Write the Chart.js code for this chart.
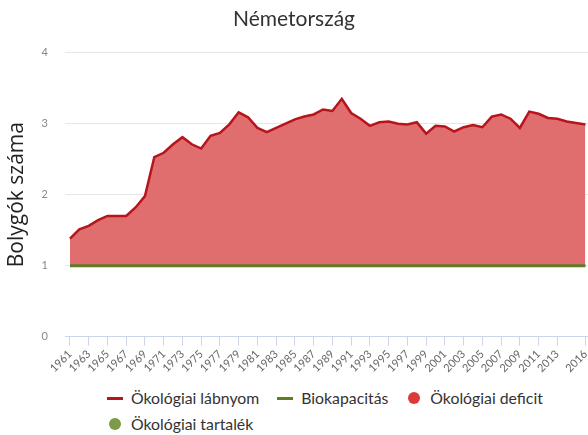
<!DOCTYPE html>
<html>
<head>
<meta charset="utf-8">
<script src="https://cdn.jsdelivr.net/npm/chart.js@4"></script>
<style>
    html, body { margin: 0; padding: 0; background: #fff; }
    body { width: 588px; height: 435px; overflow: hidden; position: relative; font-family: Lato, sans-serif; }
    .chart-box { position: absolute; left: 0; top: 0; width: 588px; height: 380px; }
    #legend { position: absolute; left: 107px; top: 385px; width: 470px; display: flex; flex-wrap: wrap; }
    .legend-item { display: flex; align-items: center; height: 26px; line-height: 1; margin-right: 18px; font-size: 15.8px; color: #333; white-space: nowrap; }
    .legend-symbol { width: 16px; height: 16px; margin-right: 8px; position: relative; }
    .legend-symbol.line::after { content: ''; position: absolute; left: 0; right: 0; top: 7px; height: 3px; background: var(--c); }
    .legend-symbol.dot::after { content: ''; position: absolute; left: 2px; top: 2px; width: 12px; height: 12px; border-radius: 50%; background: var(--c); }
</style>
</head>
<body>
<div class="chart-box"><canvas id="footprintChart"></canvas></div>
<div id="legend"></div>
<script>
// Years on the x axis
const years = [
    1961, 1962, 1963, 1964, 1965, 1966, 1967, 1968, 1969, 1970,
    1971, 1972, 1973, 1974, 1975, 1976, 1977, 1978, 1979, 1980,
    1981, 1982, 1983, 1984, 1985, 1986, 1987, 1988, 1989, 1990,
    1991, 1992, 1993, 1994, 1995, 1996, 1997, 1998, 1999, 2000,
    2001, 2002, 2003, 2004, 2005, 2006, 2007, 2008, 2009, 2010,
    2011, 2012, 2013, 2014, 2015, 2016
];

// Ecological footprint, in number of planets
const footprint = [
    1.38, 1.51, 1.56, 1.64, 1.70, 1.70, 1.70, 1.82, 1.98, 2.53,
    2.59, 2.71, 2.81, 2.71, 2.65, 2.83, 2.87, 2.99, 3.16, 3.09,
    2.94, 2.88, 2.94, 3.00, 3.06, 3.10, 3.13, 3.20, 3.18, 3.35,
    3.15, 3.07, 2.97, 3.02, 3.03, 3.00, 2.99, 3.02, 2.86, 2.97,
    2.96, 2.89, 2.95, 2.98, 2.95, 3.10, 3.13, 3.07, 2.94, 3.17,
    3.14, 3.08, 3.07, 3.03, 3.01, 2.99
];

// Biocapacity, in number of planets
const biocapacity = [
    1, 1, 1, 1, 1, 1, 1, 1, 1, 1,
    1, 1, 1, 1, 1, 1, 1, 1, 1, 1,
    1, 1, 1, 1, 1, 1, 1, 1, 1, 1,
    1, 1, 1, 1, 1, 1, 1, 1, 1, 1,
    1, 1, 1, 1, 1, 1, 1, 1, 1, 1,
    1, 1, 1, 1, 1, 1
];

// Labelled years on the x axis
const xTickYears = [
    1961, 1963, 1965, 1967, 1969, 1971, 1973, 1975, 1977, 1979,
    1981, 1983, 1985, 1987, 1989, 1991, 1993, 1995, 1997, 1999,
    2001, 2003, 2005, 2007, 2009, 2011, 2013, 2016
];

const yTicks = [0, 1, 2, 3, 4];

const legendLabels = ['Ökológiai lábnyom', 'Biokapacitás', 'Ökológiai deficit', 'Ökológiai tartalék'];
const legendKinds = ['line', 'line', 'dot', 'dot'];

// Colours
const footprintColor = '#b8141c';
const biocapColor = '#5e7d25';
const deficitColor = '#dd3b3b';
const deficitFill = 'rgb(224, 110, 110)';
const reserveColor = '#7b9b4b';
const legendColors = [footprintColor, biocapColor, deficitColor, reserveColor];

const fontFamily = 'Lato, "Open Sans", sans-serif';

const toPoints = (values) => years.map((y, i) => ({ x: y, y: values[i] }));

new Chart(document.getElementById('footprintChart'), {
    type: 'line',
    data: {
        datasets: [{
            label: legendLabels[0],
            data: toPoints(footprint),
            borderColor: footprintColor,
            borderWidth: 2.5,
            pointRadius: 0,
            tension: 0,
            fill: { target: 1, above: deficitFill, below: reserveColor },
            order: 1
        }, {
            label: legendLabels[1],
            data: toPoints(biocapacity),
            borderColor: biocapColor,
            borderWidth: 3,
            pointRadius: 0,
            fill: false,
            order: 0
        }]
    },
    options: {
        responsive: true,
        maintainAspectRatio: false,
        animation: false,
        layout: { padding: { left: 0, right: 0, top: 0, bottom: 3 } },
        plugins: {
            legend: { display: false },
            tooltip: { enabled: false },
            title: {
                display: true,
                text: 'Németország',
                color: '#333',
                font: { family: fontFamily, size: 21, weight: 'normal' },
                padding: { top: 6.5, bottom: 21 }
            }
        },
        scales: {
            x: {
                type: 'linear',
                min: 1960.47,
                max: 2016.27,
                afterBuildTicks: (scale) => {
                    scale.ticks = xTickYears.map(v => ({ value: v }));
                },
                // rotated year labels may hang outside the plot, like the original
                afterFit: (scale) => {
                    scale.paddingLeft = 0;
                    scale.paddingRight = 0;
                },
                ticks: {
                    autoSkip: false,
                    minRotation: 45,
                    maxRotation: 45,
                    padding: 2,
                    color: '#666',
                    font: { family: fontFamily, size: 11 },
                    callback: (value) => String(value)
                },
                grid: {
                    drawOnChartArea: false,
                    drawTicks: true,
                    tickLength: 9,
                    color: '#ccd6eb'
                },
                border: { display: true, color: '#ccd6eb', width: 1 }
            },
            y: {
                min: 0,
                max: 4,
                afterBuildTicks: (scale) => {
                    scale.ticks = yTicks.map(v => ({ value: v }));
                },
                // fixed axis width so the plot starts where the original does
                afterFit: (scale) => {
                    scale.width = 65;
                },
                ticks: {
                    padding: 17,
                    color: '#888',
                    font: { family: fontFamily, size: 11 }
                },
                grid: { color: '#e6e6e6', drawTicks: false },
                border: { display: false },
                title: {
                    display: true,
                    text: 'Bolygók száma',
                    color: '#222',
                    font: { family: '"Open Sans", Lato, sans-serif', size: 21, weight: 'normal' },
                    padding: { top: 4.4, bottom: 0 }
                }
            }
        }
    }
});

// HTML legend, two rows like the original
const legendBox = document.getElementById('legend');
legendLabels.forEach((text, i) => {
    const item = document.createElement('div');
    item.className = 'legend-item';
    const sym = document.createElement('span');
    sym.className = 'legend-symbol ' + legendKinds[i];
    sym.style.setProperty('--c', legendColors[i]);
    const label = document.createElement('span');
    label.textContent = text;
    item.appendChild(sym);
    item.appendChild(label);
    legendBox.appendChild(item);
});
</script>
</body>
</html>
